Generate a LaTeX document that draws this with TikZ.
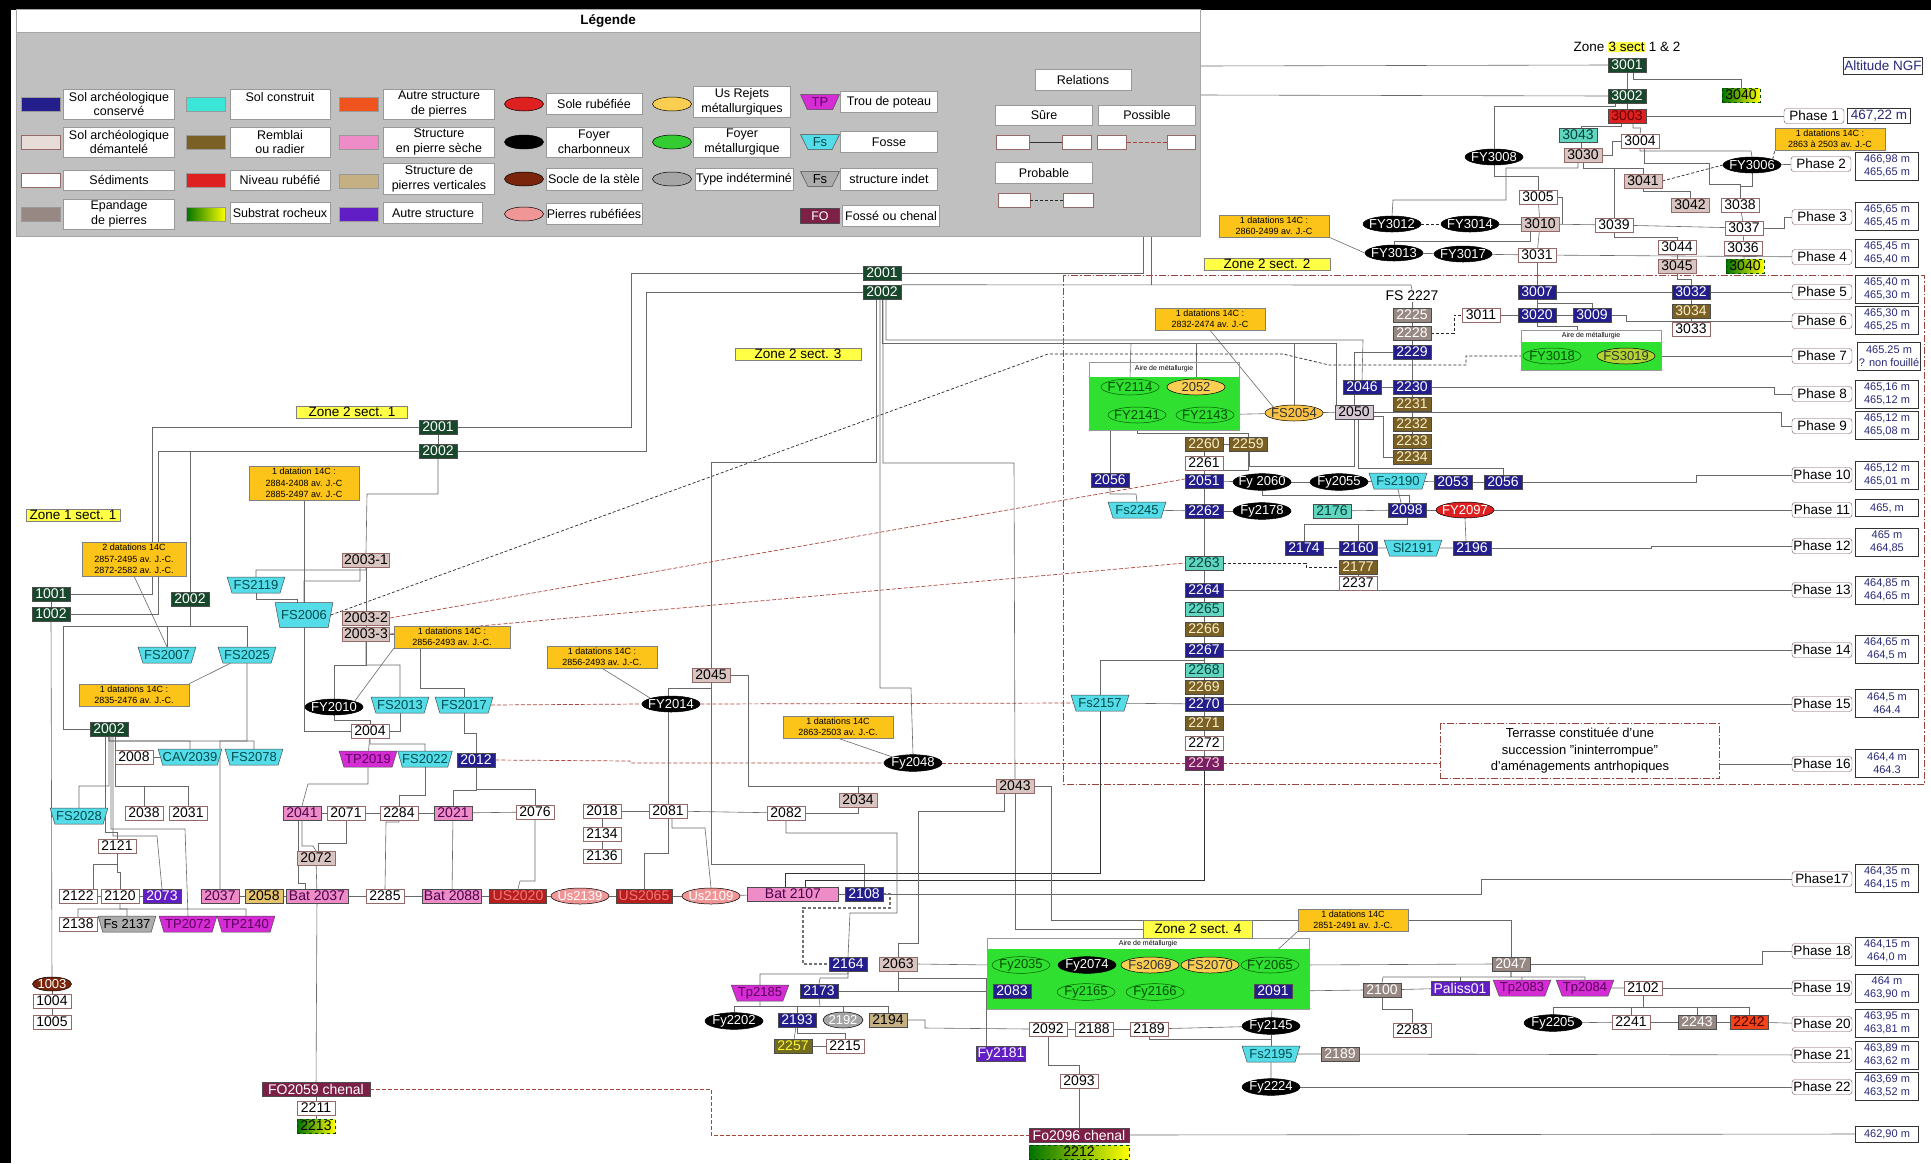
\documentclass[tikz,border=0pt]{standalone}
\usepackage{fontspec}
\setmainfont{Liberation Sans}
\usepackage{tikz}
\usetikzlibrary{shapes.geometric,calc,positioning}
\pgfdeclarelayer{paper}
\pgfdeclarelayer{links}
\pgfsetlayers{paper,links,main}
\definecolor{solcons}{RGB}{36,30,140}
\definecolor{soldem}{RGB}{216,196,192}
\definecolor{soldemline}{RGB}{150,105,105}
\definecolor{epand}{RGB}{152,136,132}
\definecolor{remblai}{RGB}{122,96,36}
\definecolor{remtext}{RGB}{250,240,200}
\definecolor{solconst}{RGB}{96,214,190}
\definecolor{nivrub}{RGB}{222,32,32}
\definecolor{nivrubdk}{RGB}{185,30,30}
\definecolor{ustext}{RGB}{240,120,120}
\definecolor{autpier}{RGB}{240,84,30}
\definecolor{pseche}{RGB}{238,140,200}
\definecolor{pvert}{RGB}{196,176,130}
\definecolor{autstr}{RGB}{96,30,196}
\definecolor{dkgreen}{RGB}{24,72,44}
\definecolor{fossmag}{RGB}{124,32,72}
\definecolor{fscyan}{RGB}{84,220,232}
\definecolor{tpmag}{RGB}{214,44,214}
\definecolor{socle}{RGB}{122,36,12}
\definecolor{prub}{RGB}{240,150,150}
\definecolor{rejet}{RGB}{250,206,80}
\definecolor{metgreen}{RGB}{48,224,48}
\definecolor{datgold}{RGB}{252,196,24}
\definecolor{zoneyel}{RGB}{255,255,70}
\definecolor{lngray}{RGB}{105,105,105}
\definecolor{possred}{RGB}{170,70,60}
\definecolor{altblue}{RGB}{40,40,120}
\definecolor{legrey}{RGB}{192,192,192}
\definecolor{zoneboxred}{RGB}{150,70,60}
\definecolor{b2273}{RGB}{120,30,100}
\definecolor{tan2058}{RGB}{230,196,110}
\definecolor{lav}{RGB}{212,200,212}
\newcommand{\usfont}{\fontsize{14}{14}\selectfont}
\newcommand{\elfont}{\fontsize{13}{13}\selectfont}
\newcommand{\lgfont}{\fontsize{12.5}{14.5}\selectfont}
\newcommand{\dtfont}{\fontsize{9}{11.5}\selectfont}
\newcommand{\znfont}{\fontsize{13.5}{14}\selectfont}
\newcommand{\alfont}{\fontsize{11}{13.5}\selectfont}
\newcommand{\tyfont}{\fontsize{7}{8}\selectfont}

\begin{document}
\begin{tikzpicture}[x=1pt, y=-1pt,
    usbox/.style={draw=black!70, line width=0.5pt, minimum width=38pt, minimum height=14pt, inner sep=1pt, font=\usfont},
    sc/.style={usbox, fill=solcons, text=white},
    sd/.style={usbox, fill=soldem, draw=soldemline},
    sed/.style={usbox, fill=white, draw=soldemline},
    ep/.style={usbox, fill=epand, text=white},
    rem/.style={usbox, fill=remblai, text=remtext},
    cons/.style={usbox, fill=solconst, text=teal!50!black},
    nr/.style={usbox, fill=nivrub, text=red!40!black},
    ps/.style={usbox, fill=pseche, text=violet!60!black},
    pv/.style={usbox, fill=pvert},
    ast/.style={usbox, fill=autstr, text=white},
    dg/.style={usbox, fill=dkgreen, text=white},
    subs/.style={usbox, left color=green!45!black, right color=yellow, draw=green!30!black, dashed},
    fo/.style={usbox, fill=fossmag, text=white},
    ell/.style={ellipse, draw=black, line width=0.5pt, minimum width=58pt, minimum height=16pt, inner xsep=-4pt, inner ysep=0pt, font=\elfont},
    fch/.style={ell, fill=black, text=white},
    fmet/.style={ell, draw=green!35!black, fill=metgreen, text=green!30!black},
    rej/.style={ell, fill=rejet, text=black!80},
    srub/.style={ell, fill=nivrub, text=white},
    prb/.style={ell, fill=prub, text=white},
    ind/.style={ell, fill=gray!70},
    soc/.style={ell, fill=socle, text=white},
    trap/.style={trapezium, shape border rotate=180, trapezium left angle=64, trapezium right angle=64, trapezium stretches=true, draw=black!70, line width=0.5pt, minimum width=58pt, minimum height=16pt, inner sep=0pt, font=\elfont},
    fs/.style={trap, fill=fscyan, text=teal!60!black},
    tp/.style={trap, fill=tpmag, text=violet!70!black},
    fsi/.style={trap, fill=gray!65, text=black},
    dat/.style={draw=black!50, fill=datgold, font=\dtfont, align=center, inner sep=2pt, minimum width=110pt},
    zlab/.style={draw=black!50, fill=zoneyel, font=\znfont, inner sep=1.5pt},
    phs/.style={draw=soldemline!80!black, rounded corners=3pt, fill=white, font=\znfont, minimum width=60pt, minimum height=15pt, inner sep=1pt},
    altb/.style={draw=black!80, line width=0.8pt, fill=white, font=\alfont, text=altblue, align=center, minimum width=63pt, minimum height=28pt, inner sep=0.5pt},
    ln/.style={draw=lngray, line width=0.6pt},
    dk/.style={draw=black!80, line width=0.9pt},
    poss/.style={draw=possred, line width=0.7pt, dash pattern=on 4pt off 2pt},
    prob/.style={draw=black!85, line width=0.7pt, dash pattern=on 3pt off 2pt},
    zonebox/.style={draw=zoneboxred, line width=0.8pt, dash pattern=on 7pt off 2pt on 1.5pt off 2pt},
    swatch/.style={minimum width=39pt, minimum height=14pt, inner sep=0pt, draw=black!40},
    lab/.style={draw=black!40, fill=white, font=\lgfont, align=center, inner sep=1pt},
    rbox/.style={draw=soldemline, fill=white, minimum height=14pt, inner sep=0pt}]
\useasboundingbox (0,0) rectangle (1931,1163);
\begin{pgfonlayer}{paper}
\fill[black] (0,0) rectangle (1931,1163);
\fill[white] (11,10) rectangle (1931,1163);
\end{pgfonlayer}

% legende
\fill[white] (16,9) rectangle (1200,32);
\fill[legrey] (16,32) rectangle (1200,236);
\draw[black!35] (16,9) rectangle (1200,236);
\draw[black!35] (16,32) -- (1200,32);
\node[font=\bfseries\znfont] (legtitle) at (608,21) {Légende};
\node[swatch, fill=solcons] (sw1) at (41,104) {};
\node[lab, minimum width=111pt, minimum height=30pt] (lb1) at (119,104) {Sol archéologique\\conservé};
\node[swatch, fill=solconst!60!cyan] (sw2) at (206,104) {};
\node[lab, minimum width=100pt, minimum height=30pt] (lb2) at (280,104) {Sol construit\\\mbox{}};
\node[swatch, fill=autpier] (sw3) at (359,104) {};
\node[lab, minimum width=111pt, minimum height=30pt] (lb3) at (439,104) {Autre structure\\de pierres};
\node[swatch, fill=soldem!60, draw=soldemline] (sw4) at (41,142) {};
\node[lab, minimum width=111pt, minimum height=30pt] (lb4) at (119,142) {Sol archéologique\\démantelé};
\node[swatch, fill=remblai] (sw5) at (206,142) {};
\node[lab, minimum width=100pt, minimum height=30pt] (lb5) at (280,142) {Remblai\\ou radier};
\node[swatch, fill=pseche] (sw6) at (359,142) {};
\node[lab, minimum width=111pt, minimum height=30pt] (lb6) at (439,142) {Structure\\en pierre sèche};
\node[swatch, fill=white, draw=soldemline] (sw7) at (41,180) {};
\node[lab, minimum width=111pt, minimum height=20pt] (lb7) at (119,180) {Sédiments};
\node[swatch, fill=nivrub] (sw8) at (206,180) {};
\node[lab, minimum width=100pt, minimum height=20pt] (lb8) at (280,180) {Niveau rubéfié};
\node[swatch, fill=pvert] (sw9) at (359,181) {};
\node[lab, minimum width=111pt, minimum height=31pt] (lb9) at (439,179) {Structure de\\pierres verticales};
\node[swatch, fill=epand] (sw10) at (41,214) {};
\node[lab, minimum width=111pt, minimum height=30pt] (lb10) at (119,214) {Epandage\\de pierres};
\node[swatch, left color=green!45!black, right color=yellow] (sw11) at (206,214) {};
\node[lab, minimum width=100pt, minimum height=21pt] (lb11) at (280,213) {Substrat rocheux};
\node[swatch, fill=autstr] (sw12) at (359,214) {};
\node[lab, minimum width=99pt, minimum height=21pt] (lb12) at (433,213) {Autre structure};
\node[srub, minimum width=39pt, minimum height=14pt] (le1) at (524,104) {};
\node[lab, minimum width=96pt, minimum height=21pt] (lb13) at (594,104) {Sole rubéfiée};
\node[fch, minimum width=39pt, minimum height=14pt] (le2) at (524,142) {};
\node[lab, minimum width=96pt, minimum height=30pt] (lb14) at (594,142) {Foyer\\charbonneux};
\node[soc, minimum width=39pt, minimum height=14pt] (le3) at (524,179) {};
\node[lab, minimum width=96pt, minimum height=22pt] (lb15) at (594,179) {Socle de la stèle};
\node[prb, minimum width=39pt, minimum height=14pt] (le4) at (524,214) {};
\node[lab, minimum width=96pt, minimum height=21pt] (lb16) at (594,214) {Pierres rubéfiées};
\node[rej, minimum width=39pt, minimum height=14pt] (le5) at (672,104) {};
\node[lab, minimum width=97pt, minimum height=31pt] (lb17) at (742,102) {Us Rejets\\métallurgiques};
\node[ell, fill=green!75!black!80, minimum width=39pt, minimum height=14pt] (le6) at (672,142) {};
\node[lab, minimum width=97pt, minimum height=30pt] (lb18) at (742,142) {Foyer\\métallurgique};
\node[ind, minimum width=39pt, minimum height=14pt] (le7) at (672,179) {};
\node[lab, minimum width=97pt, minimum height=22pt] (lb19) at (744,179) {Type indéterminé};
\node[tp, minimum width=39pt, minimum height=15pt] (lt1) at (820,102) {TP};
\node[lab, minimum width=97pt, minimum height=21pt] (lb20) at (889,102) {Trou de poteau};
\node[fs, minimum width=39pt, minimum height=15pt] (lt2) at (820,142) {Fs};
\node[lab, minimum width=97pt, minimum height=21pt] (lb21) at (889,142) {Fosse};
\node[fsi, minimum width=39pt, minimum height=15pt] (lt3) at (820,179) {Fs};
\node[lab, minimum width=97pt, minimum height=22pt] (lb22) at (889,179) {structure indet};
\node[fo, minimum width=39pt, minimum height=15pt, font=\lgfont] (lt4) at (820,216) {FO};
\node[lab, minimum width=97pt, minimum height=21pt] (lb23) at (891,216) {Fossé ou chenal};
\node[lab, minimum width=96pt, minimum height=21pt] (relt) at (1083,80) {Relations};
\node[lab, minimum width=97pt, minimum height=20pt] (rsur) at (1044,115) {Sûre};
\node[lab, minimum width=97pt, minimum height=20pt] (rpos) at (1147,115) {Possible};
\node[rbox, minimum width=33pt] (rs1) at (1013,142) {};
\node[rbox, minimum width=29pt] (rs2) at (1077,142) {};
\node[rbox, minimum width=29pt] (rp1) at (1112,142) {};
\node[rbox, minimum width=28pt] (rp2) at (1181,142) {};
\node[lab, minimum width=97pt, minimum height=21pt] (rprob) at (1044,173) {Probable};
\node[rbox, minimum width=32pt] (rb1) at (1014,200) {};
\node[rbox, minimum width=30pt] (rb2) at (1078,200) {};
\draw[black!80, line width=0.8pt] (rs1) -- (rs2);
\draw[poss] (rp1) -- (rp2);
\draw[prob] (rb1) -- (rb2);

% zone 3
\node[font=\znfont] (zl3) at (1627,47) {Zone {\setlength{\fboxsep}{0.5pt}\colorbox{zoneyel}{3 sect}} 1 \& 2};
\node[altb, minimum height=17pt, font=\znfont] (altngf) at (1883,66) {Altitude NGF};
\node[dg] (n3001) at (1627,65) {3001};
\node[subs] (n3040a) at (1741,95) {3040};
\node[dg] (n3002) at (1627,96) {3002};
\node[nr] (n3003) at (1627,116) {3003};
\node[phs] (ph1) at (1814,116) {Phase 1};
\node[altb, minimum height=15pt, font=\znfont] (alt1) at (1879,116) {467,22 m};
\node[cons] (n3043) at (1578,135) {3043};
\node[sed] (n3004) at (1640,141) {3004};
\node[sd] (n3030) at (1583,155) {3030};
\node[fch] (fy3008) at (1494,157) {FY3008};
\node[dat] (d3) at (1830,139) {1 datations 14C :\\2863 à 2503 av. J.-C};
\node[fch] (fy3006) at (1752,165) {FY3006};
\node[phs] (ph2) at (1821,164) {Phase 2};
\node[altb] (alt2) at (1887,166) {466,98 m\\465,65 m};
\node[sd] (n3041) at (1643,181) {3041};
\node[sed] (n3005) at (1538,197) {3005};
\node[sd] (n3042) at (1690,205) {3042};
\node[sed] (n3038) at (1740,205) {3038};
\node[sd] (n3010) at (1540,224) {3010};
\node[sed] (n3039) at (1614,225) {3039};
\node[sed] (n3037) at (1744,228) {3037};
\node[phs] (ph3) at (1822,217) {Phase 3};
\node[altb] (alt3) at (1887,216) {465,65 m\\465,45 m};
\node[fch] (fy3012) at (1392,224) {FY3012};
\node[fch] (fy3014) at (1470,224) {FY3014};
\node[fch] (fy3013) at (1394,253) {FY3013};
\node[fch] (fy3017) at (1463,254) {FY3017};
\node[sed] (n3031) at (1537,255) {3031};
\node[sed] (n3044) at (1677,247) {3044};
\node[sed] (n3036) at (1743,248) {3036};
\node[sd] (n3045) at (1677,266) {3045};
\node[subs] (n3040b) at (1745,266) {3040};
\node[phs] (ph4) at (1822,257) {Phase 4};
\node[altb] (alt4) at (1887,253) {465,45 m\\465,40 m};
\node[dat] (d2a) at (1274,226) {1 datations 14C :\\2860-2499 av. J.-C};
\node[zlab, minimum width=126pt] (zl22) at (1267,264) {Zone 2 sect. 2};

% zone 2 sect. 2, haut
\node[sc] (n3007) at (1537,292) {3007};
\node[sc] (n3032) at (1691,292) {3032};
\node[phs] (ph5) at (1822,292) {Phase 5};
\node[altb] (alt5) at (1887,289) {465,40 m\\465,30 m};
\node[sed] (n3011) at (1481,315) {3011};
\node[sc] (n3020) at (1537,315) {3020};
\node[sc] (n3009) at (1592,315) {3009};
\node[rem] (n3034) at (1691,311) {3034};
\node[sed] (n3033) at (1691,329) {3033};
\node[phs] (ph6) at (1822,321) {Phase 6};
\node[altb] (alt6) at (1887,320) {465,30 m\\465,25 m};
\fill[metgreen] (1521,342) rectangle (1661,370);
\draw[black!40] (1521,330) rectangle (1661,370);
\node[font=\tyfont] (aire3) at (1591,336) {Aire de métallurgie};
\node[fmet] (fy3018) at (1552,356) {FY3018};
\node[rej, fill=yellow!60!metgreen] (fs3019) at (1626,356) {FS3019};
\node[phs] (ph7) at (1822,356) {Phase 7};
\node[altb] (alt7) at (1889,356) {465.25 m\\? non fouillé};
\node[font=\usfont, inner sep=1pt] (fs2227) at (1412,296) {FS 2227};
\node[ep] (n2225) at (1412,315) {2225};
\node[ep] (n2228) at (1412,333) {2228};
\node[sc] (n2229) at (1412,352) {2229};
\node[dat] (d2b) at (1210,319) {1 datations 14C :\\2832-2474 av. J.-C};
\fill[metgreen] (1089,377) rectangle (1239,430);
\draw[black!40] (1089,362) rectangle (1239,430);
\node[font=\tyfont] (aire2) at (1164,369) {Aire de métallurgie};
\node[fmet] (fy2114) at (1130,387) {FY2114};
\node[rej] (n2052) at (1196,387) {2052};
\node[fmet] (fy2141) at (1137,415) {FY2141};
\node[fmet] (fy2143) at (1205,415) {FY2143};
\node[rej, fill=rejet!85!orange] (fs2054) at (1294,413) {FS2054};
\node[usbox, fill=lav] (n2050) at (1354,412) {2050};
\node[sc] (n2046) at (1362,387) {2046};
\node[sc] (n2230) at (1412,387) {2230};
\node[rem] (n2231) at (1412,404) {2231};
\node[rem] (n2232) at (1412,424) {2232};
\node[rem] (n2233) at (1412,441) {2233};
\node[rem] (n2234) at (1412,457) {2234};
\node[phs] (ph8) at (1822,394) {Phase 8};
\node[altb] (alt8) at (1887,394) {465,16 m\\465,12 m};
\node[phs] (ph9) at (1822,426) {Phase 9};
\node[altb] (alt9) at (1887,425) {465,12 m\\465,08 m};

% zone 2 sect. 2, colonne
\node[rem] (n2260) at (1204,444) {2260};
\node[rem] (n2259) at (1248,444) {2259};
\node[sed] (n2261) at (1204,463) {2261};
\node[sc] (n2056a) at (1110,480) {2056};
\node[sc] (n2051) at (1204,481) {2051};
\node[fch] (fy2060) at (1262,482) {Fy 2060};
\node[fch] (fy2055) at (1339,482) {Fy2055};
\node[fs] (fs2190) at (1398,481) {Fs2190};
\node[sc] (n2053) at (1453,482) {2053};
\node[sc] (n2056b) at (1503,482) {2056};
\node[phs] (ph10) at (1822,475) {Phase 10};
\node[altb] (alt10) at (1887,475) {465,12 m\\465,01 m};
\node[fs] (fs2245) at (1137,510) {Fs2245};
\node[sc] (n2262) at (1204,511) {2262};
\node[fch] (fy2178) at (1262,511) {Fy2178};
\node[cons] (n2176) at (1332,511) {2176};
\node[sc] (n2098) at (1407,510) {2098};
\node[srub] (fy2097) at (1465,510) {FY2097};
\node[phs] (ph11) at (1822,510) {Phase 11};
\node[altb, minimum height=17pt] (alt11) at (1887,508) {465, m};
\node[sc] (n2174) at (1304,548) {2174};
\node[sc] (n2160) at (1358,548) {2160};
\node[fs] (sl2191) at (1413,548) {Sl2191};
\node[sc] (n2196) at (1472,548) {2196};
\node[phs] (ph12) at (1822,546) {Phase 12};
\node[altb] (alt12) at (1887,542) {465 m\\464,85};
\node[cons] (n2263) at (1204,563) {2263};
\node[rem] (n2177) at (1358,567) {2177};
\node[sed] (n2237) at (1358,583) {2237};
\node[sc] (n2264) at (1204,590) {2264};
\node[phs] (ph13) at (1822,590) {Phase 13};
\node[altb] (alt13) at (1887,590) {464,85 m\\464,65 m};
\node[cons] (n2265) at (1204,609) {2265};
\node[rem] (n2266) at (1204,629) {2266};
\node[sc] (n2267) at (1204,650) {2267};
\node[phs] (ph14) at (1822,650) {Phase 14};
\node[altb] (alt14) at (1887,649) {464,65 m\\464,5 m};
\node[cons] (n2268) at (1204,670) {2268};
\node[rem] (n2269) at (1204,687) {2269};
\node[fs] (fs2157) at (1100,703) {Fs2157};
\node[sc] (n2270) at (1204,704) {2270};
\node[phs] (ph15) at (1822,704) {Phase 15};
\node[altb] (alt15) at (1887,703) {464,5 m\\464.4};
\node[rem] (n2271) at (1204,723) {2271};
\node[sed] (n2272) at (1204,743) {2272};
\node[usbox, fill=b2273, text=pink!70] (n2273) at (1204,763) {2273};
\node[phs] (ph16) at (1822,764) {Phase 16};
\node[altb] (alt16) at (1887,763) {464,4 m\\464.3};
\node[zonebox, fill=white, font=\fontsize{13}{16.5}\selectfont, align=center, minimum width=279pt, minimum height=55pt, inner sep=1pt] (terr) at (1580,751) {Terrasse constituée d'une\\succession "ininterrompue"\\d'aménagements antrhopiques};

% zone 2 sect. 3
\node[zlab, minimum width=126pt] (zl23) at (798,354) {Zone 2 sect. 3};
\node[dg] (n2001b) at (882,273) {2001};
\node[dg] (n2002b) at (882,292) {2002};
\node[dat] (d2856b) at (602,657) {1 datations 14C :\\2856-2493 av. J.-C.};
\node[sd] (n2045) at (711,675) {2045};
\node[fch] (fy2014) at (671,704) {FY2014};
\node[dat] (d2863) at (838,727) {1 datations 14C\\2863-2503 av. J.-C.};
\node[fch] (fy2048) at (913,763) {Fy2048};
\node[sd] (n2043) at (1015,786) {2043};
\node[sd] (n2034) at (858,800) {2034};
\node[sed] (n2076) at (535,812) {2076};
\node[sed] (n2018) at (602,811) {2018};
\node[sed] (n2081) at (668,811) {2081};
\node[sed] (n2082) at (786,813) {2082};
\node[sed] (n2134) at (602,834) {2134};
\node[sed] (n2136) at (602,856) {2136};
\node[usbox, fill=nivrubdk, text=ustext, minimum width=57pt] (us2020) at (518,896) {US2020};
\node[prb] (us2139) at (580,896) {Us2139};
\node[usbox, fill=nivrubdk, text=ustext, minimum width=56pt] (us2065) at (644,896) {US2065};
\node[prb] (us2109) at (711,896) {Us2109};
\node[ps, minimum width=91pt] (bat2107) at (793,894) {Bat 2107};
\node[sc] (n2108) at (864,894) {2108};
\node[sc] (n2164) at (848,964) {2164};
\node[sd] (n2063) at (898,964) {2063};
\node[tp] (tp2185) at (760,993) {Tp2185};
\node[sc] (n2173) at (819,991) {2173};
\node[fch] (fy2202) at (734,1021) {Fy2202};
\node[sc] (n2193) at (797,1020) {2193};
\node[ind, minimum width=40pt, text=white] (n2192) at (843,1020) {2192};
\node[pv] (n2194) at (888,1020) {2194};
\node[rem, fill=olive!75!black, text=yellow!80] (n2257) at (793,1046) {2257};
\node[sed] (n2215) at (845,1046) {2215};

% zone 2 sect. 4
\node[dat] (d2851) at (1353,920) {1 datations 14C\\2851-2491 av. J.-C.};
\fill[metgreen] (987,949) rectangle (1309,1009);
\draw[black!40] (987,938) rectangle (1309,1009);
\node[font=\tyfont] (aire4) at (1148,944) {Aire de métallurgie};
\node[zlab, minimum width=109pt, minimum height=18pt] (zl24) at (1198,929) {Zone 2 sect. 4};
\node[fmet] (fy2035) at (1021,965) {Fy2035};
\node[fch] (fy2074) at (1087,965) {Fy2074};
\node[rej] (fs2069) at (1150,965) {Fs2069};
\node[rej] (fs2070) at (1210,965) {FS2070};
\node[fmet] (fy2065) at (1270,965) {FY2065};
\node[sc] (n2083) at (1012,991) {2083};
\node[fmet] (fy2165) at (1086,992) {Fy2165};
\node[fmet] (fy2166) at (1155,992) {Fy2166};
\node[sc] (n2091) at (1273,991) {2091};
\node[ep] (n2100) at (1382,990) {2100};
\node[sed] (n2283) at (1412,1030) {2283};
\node[sed] (n2092) at (1048,1029) {2092};
\node[sed] (n2188) at (1094,1029) {2188};
\node[sed] (n2189a) at (1149,1029) {2189};
\node[fch] (fy2145) at (1271,1026) {Fy2145};
\node[ast, minimum width=47pt] (fy2181) at (1001,1054) {Fy2181};
\node[fs] (fs2195) at (1271,1054) {Fs2195};
\node[ep] (n2189b) at (1340,1054) {2189};
\node[sed] (n2093) at (1079,1081) {2093};
\node[fch] (fy2224) at (1271,1087) {Fy2224};
\node[fo, minimum width=100pt] (fo2096) at (1079,1135) {Fo2096 chenal};
\node[subs, minimum width=100pt] (n2212) at (1079,1152) {2212};
\node[ep] (n2047) at (1511,964) {2047};
\node[ast, minimum width=58pt] (paliss) at (1460,988) {Paliss01};
\node[tp] (tp2083) at (1522,988) {Tp2083};
\node[tp] (tp2084) at (1585,988) {Tp2084};
\node[sed] (n2102) at (1643,988) {2102};
\node[fch] (fy2205) at (1553,1023) {Fy2205};
\node[sed] (n2241) at (1631,1022) {2241};
\node[ep] (n2243) at (1697,1022) {2243};
\node[usbox, fill=autpier!80!red, text=red!30!black] (n2242) at (1749,1022) {2242};
\node[phs] (ph17) at (1822,879) {Phase17};
\node[altb] (alt17) at (1887,878) {464,35 m\\464,15 m};
\node[phs] (ph18) at (1822,951) {Phase 18};
\node[altb] (alt18) at (1887,951) {464,15 m\\464,0 m};
\node[phs] (ph19) at (1822,988) {Phase 19};
\node[altb] (alt19) at (1887,988) {464 m\\463,90 m};
\node[phs] (ph20) at (1822,1024) {Phase 20};
\node[altb] (alt20) at (1887,1023) {463,95 m\\463,81 m};
\node[phs] (ph21) at (1822,1055) {Phase 21};
\node[altb] (alt21) at (1887,1055) {463,89 m\\463,62 m};
\node[phs] (ph22) at (1822,1087) {Phase 22};
\node[altb] (alt22) at (1887,1086) {463,69 m\\463,52 m};
\node[altb, minimum height=16pt] (alt23) at (1887,1134) {462,90 m};

% zone 1 et zone 2 sect. 1
\node[zlab, minimum width=111pt] (zl21) at (352,412) {Zone 2 sect. 1};
\node[dg] (n2001a) at (438,427) {2001};
\node[dg] (n2002a) at (438,451) {2002};
\node[dat] (d2884) at (304,483) {1 datation 14C :\\2884-2408 av. J.-C\\2885-2497 av. J.-C};
\node[zlab, minimum width=94pt] (zl11) at (73,515) {Zone 1 sect. 1};
\node[dat, minimum width=104pt] (d2857) at (134,559) {2 datations 14C\\2857-2495 av. J.-C.\\2872-2582 av. J.-C.};
\node[sd, minimum width=47pt] (n20031) at (366,560) {2003-1};
\node[fs] (fs2119) at (256,585) {FS2119};
\node[dg] (n1001) at (51,594) {1001};
\node[dg] (n2002m) at (190,599) {2002};
\node[dg] (n1002) at (51,614) {1002};
\node[fs, minimum height=25pt] (fs2006) at (304,615) {FS2006};
\node[sd, minimum width=47pt] (n20032) at (366,618) {2003-2};
\node[sd, minimum width=47pt] (n20033) at (366,634) {2003-3};
\node[dat, minimum width=116pt] (d2856a) at (452,637) {1 datations 14C :\\2856-2493 av. J.-C.};
\node[fs] (fs2007) at (167,655) {FS2007};
\node[fs] (fs2025) at (247,655) {FS2025};
\node[dat] (d2835) at (134,695) {1 datations 14C :\\2835-2476 av. J.-C.};
\node[fch] (fy2010) at (334,707) {FY2010};
\node[fs] (fs2013) at (400,705) {FS2013};
\node[fs] (fs2017) at (464,705) {FS2017};
\node[dg] (n2002l) at (109,729) {2002};
\node[sed] (n2004) at (370,731) {2004};
\node[sed] (n2008) at (134,757) {2008};
\node[fs] (cav2039) at (190,757) {CAV2039};
\node[fs] (fs2078) at (254,757) {FS2078};
\node[tp] (tp2019) at (368,759) {TP2019};
\node[fs, minimum width=52pt] (fs2022) at (425,759) {FS2022};
\node[sc] (n2012) at (476,760) {2012};
\node[fs] (fs2028) at (79,816) {FS2028};
\node[sed] (n2038) at (144,813) {2038};
\node[sed] (n2031) at (188,813) {2031};
\node[ps] (n2041) at (302,813) {2041};
\node[sed] (n2071) at (346,813) {2071};
\node[sed] (n2284) at (399,813) {2284};
\node[ps] (n2021) at (453,813) {2021};
\node[sed] (n2121) at (117,846) {2121};
\node[sd] (n2072) at (316,858) {2072};
\node[sed] (n2122) at (78,896) {2122};
\node[sed] (n2120) at (120,896) {2120};
\node[ast] (n2073) at (162,896) {2073};
\node[ps] (n2037) at (220,896) {2037};
\node[usbox, fill=tan2058] (n2058) at (264,896) {2058};
\node[ps, minimum width=62pt] (bat2037) at (317,896) {Bat 2037};
\node[sed] (n2285) at (385,896) {2285};
\node[ps, minimum width=59pt] (bat2088) at (452,896) {Bat 2088};
\node[sed] (n2138) at (78,924) {2138};
\node[fsi] (fs2137) at (127,924) {Fs 2137};
\node[tp] (tp2072) at (188,924) {TP2072};
\node[tp] (tp2140) at (246,924) {TP2140};
\node[soc, minimum width=39pt, minimum height=14pt] (n1003) at (52,984) {1003};
\node[sed] (n1004) at (52,1001) {1004};
\node[sed] (n1005) at (52,1022) {1005};
\node[fo, minimum width=108pt] (fo2059) at (316,1089) {FO2059 chenal};
\node[sed] (n2211) at (316,1108) {2211};
\node[subs] (n2213) at (316,1126) {2213};

\begin{pgfonlayer}{links}
% cadre zone 2 sect. 2
\draw[zonebox] (1063,275) rectangle (1924,784);
% vers la legende et la zone 3
\draw[ln] (n2001b.east) -| (1143,236);
\draw[ln] (n2002b.north east) -- (1411,285) -- (fs2227.north);
\draw[ln] (1151,285) -- (1151,236);
\draw[ln] (1200,66) -- (n3001.west);
\draw[ln] (1200,95) -- (n3002.west);
\draw[ln] (n3001) -- (n3002);
\draw[ln] ([xshift=6pt]n3001.south) |- (1741,79) -- (n3040a.north);
\draw[ln] (n3002) -- (n3003);
\draw[ln] (n3003) -- (ph1);
\draw[ln] ([xshift=-12pt]n3002.south) |- (1494,106) -- (fy3008.north);
\draw[ln] ([xshift=-6pt]n3003.south) |- (1581,126) -- ([xshift=3pt]n3043.north);
\draw[ln] ([xshift=6pt]n3003.south) |- (1641,128) -- (n3004.north);
\draw[ln] ([xshift=3pt]n3043.south) -- ([xshift=-2pt]n3030.north);
\draw[ln] (n3004.west) -| (1612,155) -- (n3030.east);
\draw[ln] (n3004.south) |- (1751,151) -- (fy3006.north);
\draw[ln] ([xshift=4pt]n3004.south) |- (1709,163) |- (1740,184) -- (n3038.north);
\draw[ln] (fy3006.south) |- (1740,186);
\draw[prob] (n3041.east) -- (fy3006.west);
\draw[prob] (fy3006.north east) -- (d3.south west);
\draw[ln] (fy3006) -- (ph2);
\draw[ln] (n3030.south) |- (1643,168) -- (n3041.north);
\draw[ln] (1614,168) -- (n3039.north);
\draw[ln] ([xshift=-5pt]n3030.south) |- (1506,168) |- (1393,200) -- (fy3012.north);
\draw[ln] (fy3008.south) |- (1538,176) -- (n3005.north);
\draw[ln] (n3005) -- (n3010);
\draw[ln] (n3010) -- (n3031);
\draw[ln] (n3031) -- (n3007);
\draw[ln] (n3007) -- (n3020);
\draw[ln] (n3005.east) -| (1562,224);
\draw[ln] (n3010) -- (n3039);
\draw[ln] (n3039) -- (n3037);
\draw[ln] (n3037.east) -| (1784,217) -- (ph3.west);
\draw[ln] (n3041.south) |- (1690,191) -- (n3042.north);
\draw[ln] (n3038) -- (n3037);
\draw[ln] (n3037) -- (n3036);
\draw[ln] (n3036) -- (n3040b);
\draw[ln] (n3039.south) |- (1677,237) -- (n3044.north);
\draw[ln] (n3044) -- (n3045);
\draw[ln] (n3045.south) |- (1691,279) -- (n3032.north);
\draw[prob] (fy3012) -- (fy3014);
\draw[ln] (fy3014) -- (n3010);
\draw[ln] (fy3013) -- (fy3017);
\draw[ln] (fy3017) -- (n3031);
\draw[ln] (n3031) -- (ph4);
\draw[ln] (fy3013.north) |- (1530,241) -- (1530,231);
\draw[ln] (d2a.south east) -- (fy3013.west);
\draw[ln] (n3007) -- (n3032);
\draw[ln] (n3032) -- (ph5);
\draw[ln] (n3032) -- (n3034);
\draw[ln] (n3034) -- (n3033);
\draw[ln] (n3007.south) |- (1592,303) -- (n3009.north);
\draw[ln] (n3011) -- (n3020);
\draw[ln] (n3020) -- (n3009);
\draw[ln] (n3009.east) -| (1626,321) -- (ph6.west);
\draw[prob] (n2228.east) -| (1454,315) -- (n3011.west);
\draw[ln] (n3020.south) |- (1577,326) -- (1577,330);
\draw[ln] (fs3019) -- (ph7);
% zone 2 sect. 2
\draw[ln] (n2002b.south) |- (1336,343) -- (1336,405);
\draw[ln] ([xshift=4pt]n2002b.south) |- (1363,340) -- (n2046.north);
\draw[ln] (1131,343) -- (fy2114.north);
\draw[ln] (1196,343) -- (n2052.north);
\draw[ln] (1294,343) -- (fs2054.north);
\draw[ln] (n2229.west) -| (n2050.north);
\draw[ln] (fs2227.south) -- (n2234.north);
\draw[ln] (n2046) -- (n2230);
\draw[ln] (n2230.east) -- (1774,387) |- (ph8.west);
\draw[ln] (fy2143) -- (fs2054);
\draw[ln] (fs2054) -- (n2050);
\draw[ln] (n2050.east) -| (1781,426) -- (ph9.west);
\draw[ln] ([yshift=-4pt]n2050.east) -| (1383,457) -- (n2234.west);
\draw[ln] (d2b.south) -- (fs2054.north west);
\draw[ln] (fy2141.south) |- (1248,433) -- (n2259.north);
\draw[ln] (n2260) -- (n2259);
\draw[ln] (n2260.north) -- (n2273.south);
\draw[ln] (n2259.south) |- (1223,470);
\draw[ln] (n2050.south) |- (1249,466) -- (1249,451);
\draw[ln] (n2051) -- (fy2060);
\draw[ln] (fy2060) -- (fy2055);
\draw[ln] (fy2055) -- (fs2190);
\draw[ln] (fs2190) -- (n2053);
\draw[ln] (n2053) -- (n2056b);
\draw[ln] (n2056b.east) -- (1696,482) |- (ph10.west);
\draw[ln] ([xshift=4pt]n2050.south) |- (1503,468) -- (n2056b.north);
\draw[ln] (fy2141.west) -| (n2056a.north);
\draw[ln] (n2056a.south) |- (1136,494) -- (fs2245.north);
\draw[ln] (fs2245) -- (n2262);
\draw[ln] (n2262) -- (fy2178);
\draw[ln] (fy2060.south) |- (1409,495) -- ([xshift=2pt]n2098.north);
\draw[ln] (fs2190.south) -- ([xshift=-6pt]n2098.north);
\draw[ln] (n2176) -- (n2098);
\draw[ln] (n2098) -- (fy2097);
\draw[ln] (fy2097.east) -- (ph11.west);
\draw[ln] (n2098.south) -- (1407,524) -| (n2174.north);
\draw[ln] (1358,524) -- (n2160.north);
\draw[ln] (n2174) -- (n2160);
\draw[ln] (n2160) -- (sl2191);
\draw[ln] (sl2191) -- (n2196);
\draw[ln] (fy2097.south) -- ([xshift=-6pt]n2196.north);
\draw[ln] (n2196.east) -- (1651,548) |- (ph12.west);
\draw[prob] (n2263.east) -| (1306,567) -- (n2177.west);
\draw[ln] (n2177) -- (n2237);
\draw[ln] (n2264) -- (ph13);
\draw[ln] (n2267) -- (ph14);
\draw[ln] (fs2157) -- (n2270);
\draw[ln] (n2270) -- (ph15);
\draw[ln] (fs2157.north) |- (1204,660);
\draw[poss] (n2273.east) -- (n2273.east -| terr.west);
\draw[ln] (terr.east |- ph16.west) -- (ph16.west);
% relations longues
\draw[prob] (fs2006.east) -- (1048,354) -- (1283,354) -- (1329,365) -- (1466,365) -- (1466,356) -- (fy3018.west);
\draw[poss] (n20032.east) -- ([yshift=2pt]n2051.west);
\draw[poss] (n20033.east) -- (n2263.west);
\draw[poss] (fs2017.east) -- (fy2014.west);
\draw[poss] (fy2014.east) -- (fs2157.west);
\draw[poss] (n2012.east) -- (630,761) -- (630,763) -- (fy2048.west);
\draw[poss] (fy2048.east) -- (n2273.west);
\draw[poss] (fo2059.east) -| (711,1135) -- (fo2096.west);
% zone 2 sect. 3
\draw[ln] (n2001b.west) -| (631,427) -- (n2001a.east);
\draw[ln] (n2002b.west) -| (646,451) -- (n2002a.east);
\draw[ln] ([xshift=-6pt]n2002b.south) |- (711,462) -- (n2045.north);
\draw[ln] ([xshift=-2pt]n2002b.south) |- (911,688) -- (fy2048.north);
\draw[ln] ([xshift=1pt]n2002b.south) |- (1014,463) -- (n2043.north);
\draw[ln] (n2043.south) |- (zl24.west);
\draw[ln] (d2856b.south) -- (fy2014.north west);
\draw[ln] (d2863.south) -- (fy2048.north west);
\draw[ln] (n2045.south) |- (668,688) -- (n2081.north);
\draw[ln] (n2045.east) -| (748,786) -- (n2043.west);
\draw[ln] (n2045.south) |- (864,864) -- (n2108.north);
\draw[ln] (n2034.north) |- (n2043.west);
\draw[ln] (n2082.east) -| (n2034.south);
\draw[ln] (n2081) -- (n2082);
\draw[ln] (n2018) -- (n2081);
\draw[ln] (n2018) -- (n2134);
\draw[ln] (n2134) -- (n2136);
\draw[ln] (n2081.south) |- (644,853) -- (us2065.north);
\draw[ln] ([xshift=4pt]n2081.south) |- (705,828) -- (us2109.north);
\draw[ln] (n2021) -- (n2076);
\draw[ln] (n2076.south) |- (520,881) -- (us2020.north);
\draw[ln] (n2012.south) -- (476,789) -| (n2076.north);
\draw[ln] (bat2088) -- (us2020);
\draw[ln] (us2020) -- (us2139);
\draw[ln] (us2139) -- (us2065);
\draw[ln] (us2065) -- (us2109);
\draw[ln] (us2109) -- (bat2107);
\draw[ln] (bat2107) -- (n2108);
\draw[ln] (n2108.east) -| (1481,879) -- (ph17.west);
\draw[dk] (n2273.south) |- (805,880) -- (805,887);
\draw[dk] (fs2157.south) |- (785,873) -- (785,887);
\draw[prob, line width=1.2pt, draw=black!55] (n2108.east) -| (890,908) -| (803,964) -- (n2164.west);
\draw[ln] (n2082.south) |- (897,833) |- (850,913) -- (n2164.north);
\draw[ln] (n2164.south) |- (820,978) -- (n2173.north);
\draw[ln] (n2164.south) |- (760,974) -- (tp2185.north);
\draw[ln] (tp2185.south) -- (760,1006);
\draw[ln] (n2173.south) -- (820,1006);
\draw[ln] (fy2202.north) -- (734,1006) -| (n2194.north);
\draw[ln] (797,1006) -- (n2193.north);
\draw[ln] (843,1006) -- (n2192.north);
\draw[ln] (n2193) -- (n2257);
\draw[ln] (n2193.south) |- (845,1033) -- (n2215.north);
\draw[ln] (n2257) -- (n2215);
\draw[ln] (n2194.east) -| (925,1028) -- (n2092.west);
\draw[ln] (n2063.east) -- (fy2035.west);
\draw[ln] (n2063.south) |- (n2083.west);
\draw[ln] (n2173) -- (n2083);
\draw[ln] (n2063.south) |- (986,978) -- (986,1047);
\draw[ln] (n2063.north) |- (918,943) |- (1004,811) -- (1004,794);
% zone 2 sect. 4
\draw[ln] (n2043.east) -| (1051,920) -- (d2851.west);
\draw[ln] (d2851.south west) -- (fy2065.north);
\draw[ln] (d2851.east) -| (n2047.north);
\draw[ln] (fy2065.east) -- (n2047.west);
\draw[ln] (n2047.east) -| (1762,951) -- (ph18.west);
\draw[ln] (n2047.south) |- (1383,977) -- (n2100.north);
\draw[ln] (n2047.south) |- (1585,977) -- (tp2084.north);
\draw[ln] (1460,977) -- (paliss.north);
\draw[ln] (1522,977) -- (tp2083.north);
\draw[ln] (n2091.east) -- (n2100.west);
\draw[ln] (n2100) -- (paliss);
\draw[ln] (tp2084) -- (n2102);
\draw[ln] (n2102) -- (ph19);
\draw[ln] (n2100.south) |- (1412,1009) -- (n2283.north);
\draw[ln] (n2102.south) -- (1643,1007);
\draw[ln] (fy2205.north) -- (1553,1007) -| (n2242.north);
\draw[ln] (1631,1007) -- (n2241.north);
\draw[ln] (1697,1007) -- (n2243.north);
\draw[ln] (fy2205) -- (n2241);
\draw[ln] (n2241) -- (n2243);
\draw[ln] (n2243) -- (n2242);
\draw[ln] (n2242) -- (ph20);
\draw[ln] (n2091) -- (fy2145);
\draw[ln] (fy2145) -- (fs2195);
\draw[ln] (fs2195) -- (fy2224);
\draw[ln] (fs2195) -- (n2189b);
\draw[ln] (n2189b) -- (ph21);
\draw[ln] (fy2224) -- (ph22);
\draw[ln] (n2092) -- (n2188);
\draw[ln] (n2188) -- (n2189a);
\draw[ln] (n2189a) -- (fy2145);
\draw[ln] (n2189a.south) |- (1271,1039);
\draw[ln] (n2092.south) |- (1079,1065) -- (n2093.north);
\draw[ln] (n2093) -- (fo2096);
\draw[ln] (fo2096.east) -- (alt23.west);
% zone 1 et zone 2 sect. 1
\draw[ln] (n2001a) -- (n2002a);
\draw[ln] (n1001.east) -| (152,427) -- (n2001a.west);
\draw[ln] (n1002.east) -| (158,451) -- (n2002a.west);
\draw[ln] (n2002m.north) |- (n2002a.west);
\draw[ln] (n1001) -- (n1002);
\draw[ln] (n1002) -- (n1003);
\draw[ln] (n1003) -- (n1004);
\draw[ln] (n1004) -- (n1005);
\draw[ln] (n2002a.south) |- (367,494) -- (n20031.north);
\draw[ln] (n20031.south) |- (256,570) -- (fs2119.north);
\draw[ln] ([xshift=-6pt]n20031.south) |- (304,581) -- (fs2006.north);
\draw[ln] (fs2119.south) |- (297,599) -- (297,603);
\draw[ln] (n20031) -- (n20032);
\draw[ln] (n20032) -- (n20033);
\draw[ln] (n20033.south) |- (334,665) -- (fy2010.north);
\draw[ln] (n20033.south) |- (400,665) -- (fs2013.north);
\draw[ln] (n20033.east) -| (420,688) -| (fs2017.north);
\draw[ln] (d2856a.south west) -- (fy2010.north east);
\draw[ln] (d2884.south) |- (n2004.west);
\draw[ln] (fy2010.south) |- (370,720) -- (n2004.north);
\draw[ln] (fs2013.south) |- (n2004.east);
\draw[ln] (n2004) -- (tp2019);
\draw[ln] (n2004.south) |- (425,744) -- (fs2022.north);
\draw[ln] (fs2017.south) |- (476,733) -- (n2012.north);
\draw[ln] (d2857.south) -- (fs2007.north);
\draw[ln] (n2002m.south) -- (190,626) -| (fs2025.north);
\draw[ln] (n2002m.south) -- (190,626) -| (fs2007.north);
\draw[ln] (d2835.north east) -- (fs2025);
\draw[ln] (n2002l.west) -| (63,626) -| (fs2007.north);
\draw[ln] (fs2025.south) -- (247,741) -| (n2037.north);
\draw[ln] (n2002l.south) |- (79,786) -- (fs2028.north);
\draw[ln] ([xshift=-4pt]n2002l.south) |- (117,832) -- (n2121.north);
\draw[ln] ([xshift=4pt]n2002l.south) |- (157,836) -- (n2073.north);
\draw[ln] ([xshift=2pt]n2002l.south) |- (185,829) -- (tp2072.north);
\draw[ln] ([xshift=6pt]n2002l.south) |- (144,786) -- (n2038.north);
\draw[ln] ([xshift=6pt]n2002l.south) |- (188,786) -- (n2031.north);
\draw[ln] (n2002l.south) |- (190,741) -- (cav2039.north);
\draw[ln] (n2002l.south) |- (254,741) -- (fs2078.north);
\draw[ln] (n2008) -- (cav2039);
\draw[ln] (n2121.south) |- (120,872) -- (n2120.north);
\draw[ln] (n2121.south) |- (93,864) -- (93,889);
\draw[ln] (n2122) -- (n2120);
\draw[ln] (n2120) -- (n2073);
\draw[ln] (n2037) -- (n2058);
\draw[ln] (n2058) -- (bat2037);
\draw[ln] (bat2037) -- (n2285);
\draw[ln] (n2285) -- (bat2088);
\draw[ln] (n2120.south) |- (246,909) -- (tp2140.north);
\draw[ln] (n2138.north) |- (127,909) -- (fs2137.north);
\draw[ln] (n2041.south) |- (313,846) -- (n2072.north);
\draw[ln] (n2071.south) |- (318,843) -- (318,851);
\draw[ln] (n2072) -- (bat2037);
\draw[ln] ([xshift=-4pt]n2041.south) |- (305,883) -- (305,889);
\draw[ln] (bat2037) -- (fo2059);
\draw[ln] (fo2059) -- (n2211);
\draw[ln] (n2211) -- (n2213);
\draw[ln] (n2041) -- (n2071);
\draw[ln] (n2071) -- (n2284);
\draw[ln] (n2284) -- (n2021);
\draw[ln] (n2284.south) |- (386,822) -- (n2285.north);
\draw[ln] (n2021) -- (bat2088);
\draw[ln] (tp2019.south) |- (308,784) -- (n2041.north);
\draw[ln] (fs2022.south) |- (399,795) -- (n2284.north);
\draw[ln] (n2012.south) |- (453,790) -- (n2021.north);
\end{pgfonlayer}
\end{tikzpicture}
\end{document}
